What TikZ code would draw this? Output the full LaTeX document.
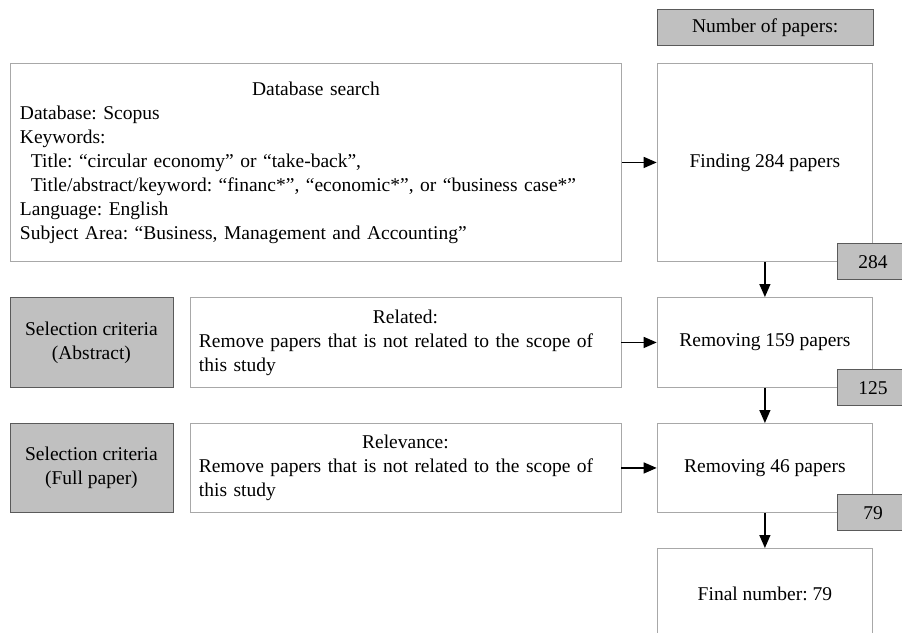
\documentclass[tikz,border=0pt]{standalone}
\usepackage{fontspec}
\setmainfont{Liberation Serif}
\usetikzlibrary{arrows.meta}
\frenchspacing
\definecolor{boxgray}{HTML}{C0C0C0}
\definecolor{gbord}{HTML}{5A5A5A}
\definecolor{wbord}{HTML}{A8A8A8}
\tikzset{
  every node/.style={font=\fontsize{19.5pt}{24pt}\selectfont},
  wbox/.style={draw=wbord, line width=0.9pt, fill=white, inner sep=0pt, anchor=north west},
  gbox/.style={draw=gbord, line width=0.9pt, fill=boxgray, inner sep=0pt},
  arr/.style={-{Triangle[length=13pt,width=11pt]}, line width=1.3pt}
}
\begin{document}
\begin{tikzpicture}[x=1pt,y=-1pt]
\useasboundingbox (0,0) rectangle (902,632);
% header
\node[gbox, anchor=north west, minimum width=216pt, minimum height=36pt] (nop) at (656.7,9.3) {Number of papers:};
% row 1
\node[wbox, minimum width=611pt, minimum height=198pt, text width=592pt, align=left] (db) at (10,63)
  {\makebox[\linewidth][c]{Database search}\\
   Database: Scopus\\
   Keywords:\\
   \hspace*{11pt}Title: “circular economy” or “take-back”,\\
   \hspace*{11pt}Title/abstract/keyword: “financ*”, “economic*”, or “business case*”\\
   Language: English\\
   Subject Area: “Business, Management and Accounting”};
\node[wbox, minimum width=215.5pt, minimum height=198pt] (fin) at (656.7,63) {Finding 284 papers};
% row 2
\node[gbox, anchor=north west, minimum width=163pt, minimum height=90pt, align=center] (sc1) at (9.5,297) {Selection criteria\\(Abstract)};
\node[wbox, minimum width=431pt, minimum height=90pt, text width=413pt, align=left] (rel) at (189.5,297)
  {\makebox[\linewidth][c]{Related:}\\
   Remove papers that is not related to the scope of\\
   this study};
\node[wbox, minimum width=215.5pt, minimum height=90pt] (rem1) at (656.7,297) {Removing 159 papers};
% row 3
\node[gbox, anchor=north west, minimum width=163pt, minimum height=89pt, align=center] (sc2) at (9.5,423) {Selection criteria\\(Full paper)};
\node[wbox, minimum width=431pt, minimum height=89pt, text width=413pt, align=left] (relv) at (189.5,423)
  {\makebox[\linewidth][c]{Relevance:}\\
   Remove papers that is not related to the scope of\\
   this study};
\node[wbox, minimum width=215.5pt, minimum height=89pt] (rem2) at (656.7,423) {Removing 46 papers};
% row 4
\node[wbox, minimum width=215.5pt, minimum height=90pt] (final) at (656.7,548) {Final number: 79};
% arrows
\draw[arr] (db.east) -- (fin.west);
\draw[arr] (rel.east) -- (rem1.west);
\draw[arr] (relv.east) -- (rem2.west);
\draw[arr] (fin.south) -- (rem1.north);
\draw[arr] (rem1.south) -- (rem2.north);
\draw[arr] (rem2.south) -- (final.north);
% number boxes
\node[gbox, minimum width=71pt, minimum height=36pt] (n284) at (fin.south east) {284};
\node[gbox, minimum width=71pt, minimum height=36pt] (n125) at (rem1.south east) {125};
\node[gbox, minimum width=71pt, minimum height=36pt] (n79) at (rem2.south east) {79};
\end{tikzpicture}
\end{document}
